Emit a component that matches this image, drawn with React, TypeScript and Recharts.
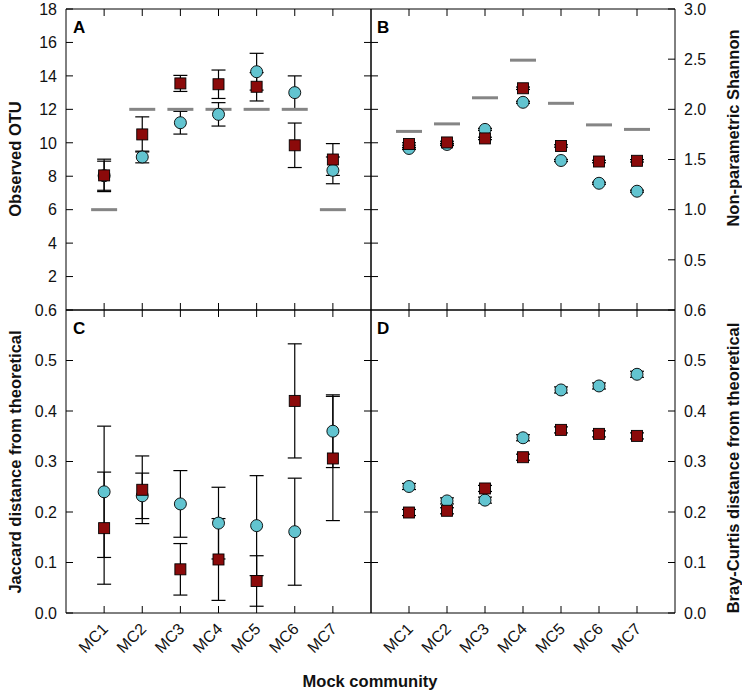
import React from 'react';
import { ScatterChart, Scatter, XAxis, YAxis, ErrorBar } from 'recharts';

const W = 742;
const H = 695;
const FONT = '"Liberation Sans", Arial, sans-serif';
const RED = '#8b0a0a';
const CYAN = '#62c4d0';
const GRAY = '#858585';

const communities = ['MC1', 'MC2', 'MC3', 'MC4', 'MC5', 'MC6', 'MC7'];
const xTicks = [1, 2, 3, 4, 5, 6, 7];

// A - observed OTU
const otuTicks = [2, 4, 6, 8, 10, 12, 14, 16, 18];
const otuInnerTicks = [2, 4, 6, 8, 10, 12, 14, 16];
const otuTheory = [6, 12, 12, 12, 12, 12, 6];
const otuSquares = [8.05, 10.5, 13.55, 13.5, 13.35, 9.85, 9.0];
const otuSquaresErr = [0.97, 1.05, 0.48, 0.85, 0.85, 1.33, 0.95];
const otuCircles = [8.03, 9.15, 11.2, 11.7, 14.25, 13.0, 8.35];
const otuCirclesErr = [0.87, 0.35, 0.68, 0.7, 1.1, 1.0, 0.8];

// B - non-parametric Shannon
const shannonTicks = [0.5, 1.0, 1.5, 2.0, 2.5, 3.0];
const shannonTheory = [1.78, 1.855, 2.115, 2.49, 2.06, 1.845, 1.8];
const shannonSquares = [1.655, 1.67, 1.71, 2.21, 1.635, 1.48, 1.487];
const shannonSquaresErr = [0.012, 0.012, 0.012, 0.012, 0.012, 0.012, 0.012];
const shannonCircles = [1.61, 1.65, 1.8, 2.07, 1.49, 1.263, 1.184];
const shannonCirclesErr = [0.01, 0.01, 0.01, 0.01, 0.01, 0.01, 0.01];

// C - Jaccard distance
const distTicks = [0, 0.1, 0.2, 0.3, 0.4, 0.5, 0.6];
const distInnerTicks = [0.1, 0.2, 0.3, 0.4, 0.5];
const jacSquares = [0.168, 0.244, 0.0865, 0.106, 0.0634, 0.42, 0.306];
const jacSquaresErr = [0.111, 0.067, 0.051, 0.081, 0.05, 0.113, 0.123];
const jacCircles = [0.24, 0.232, 0.216, 0.178, 0.173, 0.161, 0.36];
const jacCirclesErr = [0.13, 0.045, 0.066, 0.071, 0.099, 0.106, 0.072];

// D - Bray-Curtis distance
const bcSquares = [0.199, 0.2024, 0.2466, 0.3085, 0.3626, 0.3547, 0.3507];
const bcSquaresErr = [0.006, 0.006, 0.006, 0.006, 0.006, 0.006, 0.006];
const bcCircles = [0.2505, 0.222, 0.2235, 0.347, 0.4417, 0.4496, 0.4727];
const bcCirclesErr = [0.006, 0.006, 0.006, 0.006, 0.006, 0.006, 0.006];

const pts = (ys: number[], errs?: number[]) =>
  ys.map((y, i) => ({ x: xTicks[i], y, err: errs ? errs[i] : 0 }));

const TL = 7;

function SideTick(props: any) {
  const { x, y, payload, side, fmt } = props;
  let d = '';
  if (side === 'left') d = `M${x},${y}h${TL}`;
  if (side === 'right') d = `M${x},${y}h${-TL}`;
  if (side === 'top') d = `M${x},${y}v${TL}`;
  if (side === 'bottom') d = `M${x},${y}v${-TL}`;
  const txt = { fontFamily: FONT, fontSize: 16, fill: '#111' };
  return (
    <g>
      <path d={d} stroke="#000" strokeWidth={1} />
      {fmt && side === 'left' && (
        <text x={x - 9} y={y} dy="0.36em" textAnchor="end" {...txt}>{fmt(payload.value)}</text>
      )}
      {fmt && side === 'right' && (
        <text x={x + 9} y={y} dy="0.36em" textAnchor="start" {...txt}>{fmt(payload.value)}</text>
      )}
      {fmt && side === 'bottom' && (
        <text
          x={x + 5}
          y={y + 17}
          textAnchor="end"
          transform={`rotate(-45 ${x + 5} ${y + 17})`}
          {...txt}
        >
          {fmt(payload.value)}
        </text>
      )}
    </g>
  );
}

const squareShape = (p: any) => (
  <rect x={p.cx - 5.5} y={p.cy - 5.5} width={11} height={11} fill={RED} stroke="#000" strokeWidth={0.9} />
);
const circleShape = (p: any) => (
  <circle cx={p.cx} cy={p.cy} r={6} fill={CYAN} stroke="#000" strokeWidth={0.9} />
);
const theoryShape = (p: any) => (
  <line x1={p.cx - 13} x2={p.cx + 13} y1={p.cy} y2={p.cy} stroke={GRAY} strokeWidth={3} />
);

type PanelProps = {
  box: { l: number; t: number; r: number; b: number };
  valueSide: 'left' | 'right';
  domain: [number, number];
  valueTicks: number[];
  valueFmt: (v: number) => string;
  otherDomain: [number, number];
  otherTicks: number[];
  showX: boolean;
  theory?: number[];
  circles: number[];
  circlesErr: number[];
  squares: number[];
  squaresErr: number[];
};

function Panel(p: PanelProps) {
  // axes are 1px thick, so the plot box lands exactly on p.box
  const margin = { left: p.box.l - 1, top: p.box.t - 1, right: W - p.box.r - 1, bottom: H - p.box.b - 1 };
  const otherSide = p.valueSide === 'left' ? 'right' : 'left';
  const axisLine = { stroke: '#000', strokeWidth: 1 };
  return (
    <div style={{ position: 'absolute', left: 0, top: 0 }}>
      <ScatterChart width={W} height={H} margin={margin}>
        <XAxis
          xAxisId="b"
          type="number"
          dataKey="x"
          orientation="bottom"
          domain={[0, 8]}
          allowDataOverflow
          ticks={xTicks}
          interval={0}
          height={1}
          tickSize={0}
          tickMargin={0}
          tickLine={false}
          axisLine={axisLine}
          tick={(t: any) => (
            <SideTick {...t} side="bottom" fmt={p.showX ? (v: number) => communities[v - 1] : undefined} />
          )}
        />
        <XAxis
          xAxisId="t"
          type="number"
          dataKey="x"
          orientation="top"
          domain={[0, 8]}
          allowDataOverflow
          ticks={xTicks}
          interval={0}
          height={1}
          tickSize={0}
          tickMargin={0}
          tickLine={false}
          axisLine={axisLine}
          tick={(t: any) => <SideTick {...t} side="top" />}
        />
        <YAxis
          yAxisId="v"
          type="number"
          dataKey="y"
          orientation={p.valueSide}
          domain={p.domain}
          allowDataOverflow
          ticks={p.valueTicks}
          interval={0}
          width={1}
          tickSize={0}
          tickMargin={0}
          tickLine={false}
          axisLine={axisLine}
          tick={(t: any) => <SideTick {...t} side={p.valueSide} fmt={p.valueFmt} />}
        />
        <YAxis
          yAxisId="o"
          type="number"
          dataKey="y"
          orientation={otherSide}
          domain={p.otherDomain}
          allowDataOverflow
          ticks={p.otherTicks}
          interval={0}
          width={1}
          tickSize={0}
          tickMargin={0}
          tickLine={false}
          axisLine={axisLine}
          tick={(t: any) => <SideTick {...t} side={otherSide} />}
        />
        {p.theory && (
          <Scatter
            xAxisId="b"
            yAxisId="v"
            data={pts(p.theory)}
            shape={theoryShape}
            isAnimationActive={false}
          />
        )}
        <Scatter
          xAxisId="b"
          yAxisId="v"
          data={pts(p.circles, p.circlesErr)}
          shape={circleShape}
          isAnimationActive={false}
        >
          <ErrorBar dataKey="err" direction="y" width={7} stroke="#000" strokeWidth={1.2} isAnimationActive={false} />
        </Scatter>
        <Scatter
          xAxisId="b"
          yAxisId="v"
          data={pts(p.squares, p.squaresErr)}
          shape={squareShape}
          isAnimationActive={false}
        >
          <ErrorBar dataKey="err" direction="y" width={7} stroke="#000" strokeWidth={1.2} isAnimationActive={false} />
        </Scatter>
      </ScatterChart>
    </div>
  );
}

const fmtInt = (v: number) => String(v);
const fmt1 = (v: number) => v.toFixed(1);

export default function App() {
  const title = { fontFamily: FONT, fontSize: 16.5, fontWeight: 700, fill: '#111' };
  const letter = { fontFamily: FONT, fontSize: 17, fontWeight: 700, fill: '#000' };
  return (
    <div style={{ position: 'absolute', left: 0, top: 0, width: W, height: H, background: '#fff' }}>
      <Panel
        box={{ l: 66, t: 9, r: 371, b: 310 }}
        valueSide="left"
        domain={[0, 18]}
        valueTicks={otuTicks}
        valueFmt={fmtInt}
        otherDomain={[0, 18]}
        otherTicks={otuInnerTicks}
        showX={false}
        theory={otuTheory}
        circles={otuCircles}
        circlesErr={otuCirclesErr}
        squares={otuSquares}
        squaresErr={otuSquaresErr}
      />
      <Panel
        box={{ l: 371, t: 9, r: 675, b: 310 }}
        valueSide="right"
        domain={[0, 3]}
        valueTicks={shannonTicks}
        valueFmt={fmt1}
        otherDomain={[0, 18]}
        otherTicks={otuInnerTicks}
        showX={false}
        theory={shannonTheory}
        circles={shannonCircles}
        circlesErr={shannonCirclesErr}
        squares={shannonSquares}
        squaresErr={shannonSquaresErr}
      />
      <Panel
        box={{ l: 66, t: 310, r: 371, b: 613 }}
        valueSide="left"
        domain={[0, 0.6]}
        valueTicks={distTicks}
        valueFmt={fmt1}
        otherDomain={[0, 0.6]}
        otherTicks={distInnerTicks}
        showX={true}
        circles={jacCircles}
        circlesErr={jacCirclesErr}
        squares={jacSquares}
        squaresErr={jacSquaresErr}
      />
      <Panel
        box={{ l: 371, t: 310, r: 675, b: 613 }}
        valueSide="right"
        domain={[0, 0.6]}
        valueTicks={distTicks}
        valueFmt={fmt1}
        otherDomain={[0, 0.6]}
        otherTicks={distInnerTicks}
        showX={true}
        circles={bcCircles}
        circlesErr={bcCirclesErr}
        squares={bcSquares}
        squaresErr={bcSquaresErr}
      />
      <svg width={W} height={H} style={{ position: 'absolute', left: 0, top: 0, pointerEvents: 'none' }}>
        <text x={73} y={33} {...letter}>A</text>
        <text x={377} y={33} {...letter}>B</text>
        <text x={73} y={334} {...letter}>C</text>
        <text x={377} y={334} {...letter}>D</text>
        <text transform="translate(21,159) rotate(-90)" textAnchor="middle" {...title}>Observed OTU</text>
        <text transform="translate(21,462) rotate(-90)" textAnchor="middle" {...title}>Jaccard distance from theoretical</text>
        <text transform="translate(739,128) rotate(-90)" textAnchor="middle" {...title}>Non-parametric Shannon</text>
        <text transform="translate(739,468) rotate(-90)" textAnchor="middle" {...title}>Bray-Curtis distance from theoretical</text>
        <text x={370} y={687} textAnchor="middle" {...title}>Mock community</text>
      </svg>
    </div>
  );
}
